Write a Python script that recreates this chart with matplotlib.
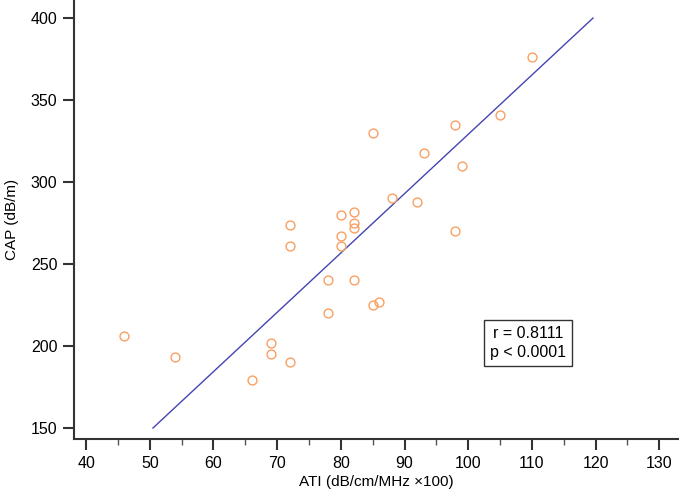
import matplotlib
matplotlib.use("Agg")
import matplotlib.pyplot as plt
from matplotlib.ticker import MultipleLocator

ati = [46, 54, 66, 69, 69, 72, 72, 72, 78, 78, 80, 80, 80, 82, 82, 82, 82,
       85, 85, 86, 88, 92, 93, 98, 98, 99, 105, 110]
cap = [206, 193, 179, 202, 195, 190, 274, 261, 240, 220, 280, 267, 261, 282,
       275, 272, 240, 330, 225, 227, 290, 288, 318, 335, 270, 310, 341, 376]

# regression line end points
fit_x = [50.5, 119.6]
fit_y = [150, 400]

stats_text = "r = 0.8111\np < 0.0001"

plt.rcParams["font.family"] = ["Liberation Sans", "DejaVu Sans"]

fig = plt.figure(figsize=(6.79, 4.96), dpi=100)
ax = fig.add_axes([74 / 679, 57 / 496, 605 / 679, 439 / 496])

ax.plot(fit_x, fit_y, color="#4444b4", linewidth=1.0, zorder=2)
ax.plot(ati, cap, linestyle="none", marker="o", markersize=6.4,
        markerfacecolor="none", markeredgecolor="#f8a064",
        markeredgewidth=1.0, zorder=3)

ax.set_xlim(38.1, 133.1)
ax.set_ylim(143.3, 411)
ax.xaxis.set_major_locator(MultipleLocator(10))
ax.xaxis.set_minor_locator(MultipleLocator(5))
ax.yaxis.set_major_locator(MultipleLocator(50))

for side in ["top", "right"]:
    ax.spines[side].set_visible(False)
for side in ["left", "bottom"]:
    ax.spines[side].set_linewidth(1.5)
    ax.spines[side].set_color("#333333")

ax.tick_params(axis="both", which="major", direction="out", length=8,
               width=1.5, color="#333333", labelsize=11.5, pad=4)
ax.tick_params(axis="x", which="minor", direction="out", length=4,
               width=1.0, color="#555555")

ax.set_xlabel("ATI (dB/cm/MHz \u00d7100)", fontsize=11, labelpad=3)
ax.set_ylabel("CAP (dB/m)", fontsize=11, labelpad=8)

# stats box, placed in data coordinates
ax.text(109.4, 202, stats_text, fontsize=11.5,
        ha="center", va="center", linespacing=1.3,
        bbox=dict(boxstyle="square,pad=0.4", facecolor="white",
                  edgecolor="#333333", linewidth=1.0))

fig.savefig("out.png", dpi=100)
